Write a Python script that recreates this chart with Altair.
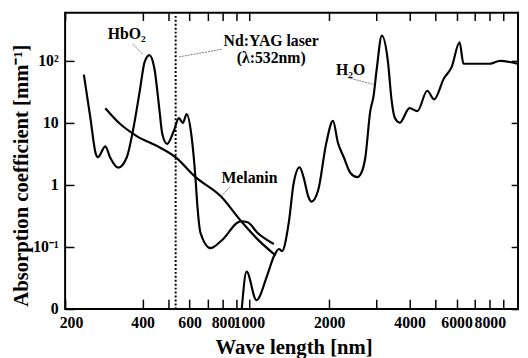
import altair as alt
import pandas as pd

# ---- data ----
hb_wl = [241, 255, 267, 272, 290, 302, 324, 349, 368, 390, 407, 424, 443, 462, 474, 494,
         524, 547, 566, 585, 611, 632, 642, 659, 718, 787, 935, 990, 1077, 1240]
hb_val = [60, 12, 3.2, 2.8, 4.2, 2.8, 1.9, 2.8, 7.5, 32, 96, 124, 75, 17, 6.7, 4.6,
          7.5, 12, 10, 13.9, 5.8, 1.2, 0.45, 0.17, 0.096, 0.125, 0.26, 0.25, 0.17, 0.112]

mel_wl = [290, 329, 379, 462, 531, 630, 787, 935, 1077, 1260]
mel_val = [17.3, 9.7, 6.2, 4.06, 2.81, 1.35, 0.65, 0.262, 0.134, 0.073]

h2o_wl = [941, 981, 1068, 1172, 1244, 1297, 1331, 1412, 1473, 1550, 1603, 1672, 1716, 1820,
          1948, 2067, 2157, 2269, 2407, 2554, 2664, 2733, 2851, 2932, 3016, 3150, 3322, 3425,
          3523, 3676, 4000, 4281, 4659, 4944, 5380, 5756, 6160, 6372, 6761, 8008, 8715, 10150]
h2o_val = [0.01, 0.040, 0.0139, 0.035, 0.072, 0.093, 0.086, 0.25, 1.08, 1.93, 1.34, 0.645, 0.54, 0.83,
           4.6, 10.8, 4.8, 2.8, 1.55, 1.34, 1.73, 2.8, 15.5, 26.8, 75.5, 256, 96, 23.8,
           12.1, 10.1, 17.3, 15.5, 33, 24, 52, 80, 200, 90, 90, 90, 100, 90]

laser_wl = [532]

x_tick_vals = [205, 400, 500, 600, 700, 800, 900, 1000, 2000, 3000, 4000, 5000, 6000, 7000, 8000, 9000]
x_labelled = [400, 600, 800, 2000, 4000]
y_tick_vals = [0.01, 0.1, 1, 10, 100]

ann_text = ["HbO\u2082", "Nd:YAG laser", "(\u03bb:532nm)", "H\u2082O", "Melanin"]
ann_wl = [349, 1213, 1213, 2407, 1006]
ann_val = [268, 208, 112, 72, 1.29]

lead_group = ["a", "a", "b", "b", "c", "c", "d", "d"]
lead_wl = [368, 400, 547, 795, 2347, 2949, 850, 787]
lead_val = [186, 129, 116, 155, 53.7, 41.6, 0.93, 0.65]

# ---- build tables ----
curves = pd.concat([
    pd.DataFrame({"wl": hb_wl, "val": hb_val, "series": "HbO2"}),
    pd.DataFrame({"wl": mel_wl, "val": mel_val, "series": "Melanin"}),
    pd.DataFrame({"wl": h2o_wl, "val": h2o_val, "series": "H2O"}),
])

W, H = 460, 301
FONT = "Liberation Serif"
TICK = "black"
NB = "\u00a0"

xscale = alt.Scale(type="log", domain=[205, 10200], nice=False)
yscale = alt.Scale(type="log", domain=[0.01, 600], nice=False)

lab_list = ",".join(str(v) for v in x_labelled)
xaxis = alt.Axis(
    orient="bottom", values=x_tick_vals,
    labelExpr=("datum.value < 300 ? '200' : indexof([" + lab_list + "], datum.value) >= 0 ? "
               "format(datum.value, 'd') : datum.value == 1000 ? '" + NB * 2 + "1000' : "
               "datum.value == 6000 ? '6000" + NB * 2 + "' : datum.value == 8000 ? '" + NB * 3 + "8000' : ''"),
    ticks=True, tickSize=10, tickWidth=1.5, tickColor=TICK, offset=-10,
    domain=False, grid=False, labelOverlap=False,
    labelFlush=True, labelFlushOffset=6, labelPadding=6,
    title="Wave length  [nm]", titleX=232, titleY=55,
    titleAlign="center", titleBaseline="alphabetic",
)
yaxis = alt.Axis(
    orient="left", values=y_tick_vals,
    labelExpr="datum.value < 0.05 ? '0' : datum.value < 0.5 ? '10\u207b\u00b9' : datum.value < 5 ? '1' : datum.value < 50 ? '10' : '10\u00b2'",
    ticks=True, tickSize=9, tickWidth=1.5, tickColor=TICK, offset=-9,
    domain=False, grid=False, labelPadding=7, labelOverlap=False,
    title="Absorption coefficient  [mm\u207b\u00b9]", titleX=-53, titleY=165,
    titleAngle=270, titleAlign="center", titleBaseline="middle",
)
xaxis_top = alt.Axis(
    orient="top", values=x_tick_vals, labels=False, title=None,
    ticks=True, tickSize=8, tickWidth=1.5, tickColor=TICK, offset=-8,
    domain=False, grid=False,
)
yaxis_right = alt.Axis(
    orient="right", values=y_tick_vals, labels=False, title=None,
    ticks=True, tickSize=7, tickWidth=1.5, tickColor=TICK, offset=-7,
    domain=False, grid=False,
)


def X(field, axis=None):
    return alt.X(field, scale=xscale, axis=axis)


def Y(field, axis=None):
    return alt.Y(field, scale=yscale, axis=axis)


lines = alt.Chart(curves).mark_line(
    color="black", strokeWidth=2.2, interpolate="monotone", clip=True
).encode(x=X("wl:Q", xaxis), y=Y("val:Q", yaxis), detail="series:N")

laser = alt.Chart(pd.DataFrame({"wl": laser_wl})).mark_rule(
    color="black", strokeWidth=2, strokeDash=[2, 2]
).encode(x=X("wl:Q", xaxis_top), y=Y("wl:Q", yaxis_right))

leaders = alt.Chart(pd.DataFrame({"g": lead_group, "wl": lead_wl, "val": lead_val})).mark_line(
    color="#555555", strokeWidth=0.8, strokeDash=[2, 1]
).encode(x=X("wl:Q"), y=Y("val:Q"), detail="g:N")

labels = alt.Chart(pd.DataFrame({"t": ann_text, "wl": ann_wl, "val": ann_val})).mark_text(
    font=FONT, fontSize=16, fontWeight="bold", color="black", align="center", baseline="middle"
).encode(x=X("wl:Q"), y=Y("val:Q"), text="t:N")

chart = alt.layer(
    lines, leaders, labels, laser
).resolve_axis(
    x="independent", y="independent"
).properties(
    width=W, height=H,
    autosize=alt.AutoSizeParams(type="none"),
    padding={"left": 58, "top": 2, "right": 2, "bottom": 47},
).configure_view(
    stroke="black", strokeWidth=2
).configure_axis(
    labelFont=FONT, labelFontSize=16, labelFontWeight="bold", labelColor="black",
    titleFont=FONT, titleFontSize=21, titleFontWeight="bold", titleColor="black",
)

chart.save("out.html", embed_options={"renderer": "svg", "actions": False})
